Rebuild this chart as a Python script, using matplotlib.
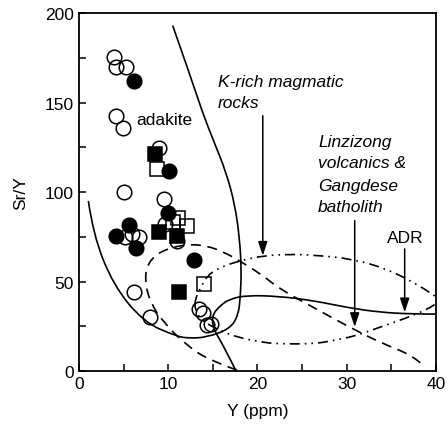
import matplotlib
matplotlib.use("Agg")
import matplotlib.pyplot as plt
from matplotlib.path import Path
from matplotlib.patches import PathPatch

plt.rcParams['font.family'] = ['Liberation Sans', 'DejaVu Sans']

# sample data (Y ppm, Sr/Y)
open_circle_y = [3.9, 4.2, 5.3, 4.2, 4.9, 9.0, 5.0, 9.5, 9.6, 5.9, 6.75, 5.15, 11.0, 6.2, 8.0, 13.5, 13.9, 14.3, 14.75]
open_circle_sry = [175.4, 169.7, 170.0, 142.6, 136.0, 124.4, 99.8, 96.1, 82.0, 76.5, 74.7, 74.7, 72.8, 44.0, 30.0, 34.5, 32.5, 25.7, 26.2]
filled_circle_y = [6.2, 10.1, 10.0, 5.6, 4.1, 6.4, 12.9]
filled_circle_sry = [162.0, 112.0, 88.3, 81.6, 75.6, 68.5, 62.0]
open_square_y = [8.7, 10.5, 11.1, 12.1, 14.0]
open_square_sry = [112.8, 83.5, 85.3, 81.0, 48.6]
filled_square_y = [8.5, 9.0, 11.0, 11.2]
filled_square_sry = [121.2, 77.5, 75.2, 44.0]

# field boundaries
adakite_x = [10.5, 12.4, 13.9, 15.05, 16.5, 17.5, 18.0, 18.2, 18.1, 17.85, 16.9, 14.3, 12.3, 10.9, 7.2, 3.85, 1.6, 1.05]
adakite_y = [193, 166, 143.6, 129, 111, 92.3, 73.7, 57, 42, 31, 23.5, 18.8, 18.3, 19.4, 27.5, 48, 76, 95]
dashed_x = [17.7, 14.7, 12.1, 9.45, 8.0, 7.4, 7.6, 8.6, 10.2, 12.3, 14.3, 16.2, 18.0, 20.65, 22.5, 26.25, 30.0, 33.7, 37.5, 38.6]
dashed_y = [0.5, 5.8, 14.1, 27.2, 38.3, 49.5, 58.8, 65, 68.8, 70.8, 70, 66.5, 61.6, 53.2, 45.8, 35.6, 25.3, 16, 8.5, 3]
krich_x = [13.0, 13.6, 14.3, 15.8, 18.2, 20.65, 23.5, 26.25, 30.7, 34.5, 37.5, 39.6, 40.4, 40.0, 37.5, 34.0, 31.1, 28.5, 26.25, 22.2, 20.65, 18.0, 15.8, 13.8, 13.0]
krich_y = [40, 46, 53, 58, 61.8, 64.4, 65.2, 64.8, 62.6, 57, 49.5, 43, 40, 37, 31, 25, 19.7, 17, 15.1, 15.2, 16, 18.5, 22.5, 28, 34]
adr_x = [17.6, 16.2, 15.05, 14.9, 15.8, 16.9, 18.8, 22.5, 26.3, 30.0, 33.7, 37.5, 40.0]
adr_y = [0, 14.1, 23.5, 31, 36.5, 40.2, 42.3, 41.7, 39.3, 35.5, 32.8, 31.8, 31.8]


def smooth_path(xs, ys, closed=False):
    pts = list(zip(xs, ys))
    mid = lambda a, b: ((a[0] + b[0]) / 2, (a[1] + b[1]) / 2)
    verts, codes = [], []
    if closed:
        n = len(pts)
        verts.append(mid(pts[-1], pts[0])); codes.append(Path.MOVETO)
        for i in range(n):
            verts += [pts[i], mid(pts[i], pts[(i + 1) % n])]
            codes += [Path.CURVE3, Path.CURVE3]
    else:
        verts.append(pts[0]); codes.append(Path.MOVETO)
        for i in range(1, len(pts) - 2):
            verts += [pts[i], mid(pts[i], pts[i + 1])]
            codes += [Path.CURVE3, Path.CURVE3]
        verts += [pts[-2], pts[-1]]
        codes += [Path.CURVE3, Path.CURVE3]
    return Path(verts, codes)


fig = plt.figure(figsize=(4.48, 4.27), dpi=100)
ax = fig.add_axes([0.1763, 0.1288, 0.7967, 0.8384])

lw = 1.2
ax.add_patch(PathPatch(smooth_path(adakite_x, adakite_y), fill=False, lw=lw, ec='black'))
ax.add_patch(PathPatch(smooth_path(adr_x, adr_y), fill=False, lw=lw, ec='black'))
ax.add_patch(PathPatch(smooth_path(dashed_x, dashed_y), fill=False, lw=lw, ec='black',
                       linestyle=(0, (6, 4))))
ax.add_patch(PathPatch(smooth_path(krich_x, krich_y, closed=True), fill=False, lw=lw, ec='black',
                       linestyle=(0, (6, 3, 1, 3, 1, 3))))

ms = 10.5
ax.plot(open_circle_y, open_circle_sry, 'o', ms=ms, mfc='none', mec='black', mew=1.1)
ax.plot(open_square_y, open_square_sry, 's', ms=ms - 0.5, mfc='none', mec='black', mew=1.1)
ax.plot(filled_circle_y, filled_circle_sry, 'o', ms=ms, mfc='black', mec='black', mew=1.1)
ax.plot(filled_square_y, filled_square_sry, 's', ms=ms - 0.5, mfc='black', mec='black', mew=1.1)

fs = 12.5
ax.text(6.4, 138, 'adakite', fontsize=fs, ha='left', va='baseline')
for txt, yy in [('K-rich magmatic', 159.4), ('rocks', 147.3)]:
    ax.text(15.6, yy, txt, fontsize=fs, style='italic', ha='left', va='baseline')
for txt, yy in [('Linzizong', 125.5), ('volcanics &', 113.8), ('Gangdese', 101.3), ('batholith', 89.6)]:
    ax.text(26.8, yy, txt, fontsize=fs, style='italic', ha='left', va='baseline')
ax.text(36.6, 72.2, 'ADR', fontsize=fs, ha='center', va='baseline')

arrow = dict(arrowstyle='-|>,head_length=0.6,head_width=0.2', color='black', lw=1.1,
             mutation_scale=14, shrinkA=0, shrinkB=0)
ax.annotate('', xy=(20.6, 64.4), xytext=(20.6, 142.6), arrowprops=arrow)
ax.annotate('', xy=(30.9, 24.6), xytext=(30.9, 84), arrowprops=arrow)
ax.annotate('', xy=(36.5, 32.8), xytext=(36.5, 68.2), arrowprops=arrow)

ax.set_xlim(0, 40)
ax.set_ylim(0, 200)
ax.set_xticks([0, 10, 20, 30, 40])
ax.set_xticks([5, 15, 25, 35], minor=True)
ax.set_yticks([0, 50, 100, 150, 200])
ax.set_yticks([25, 75, 125, 175], minor=True)
ax.tick_params(which='both', direction='in', length=5, width=1.1, labelsize=fs)
for s in ax.spines.values():
    s.set_linewidth(1.3)
ax.set_xlabel('Y (ppm)', fontsize=fs, labelpad=9)
ax.set_ylabel('Sr/Y', fontsize=fs, labelpad=12)

fig.savefig('out.png', dpi=100)
